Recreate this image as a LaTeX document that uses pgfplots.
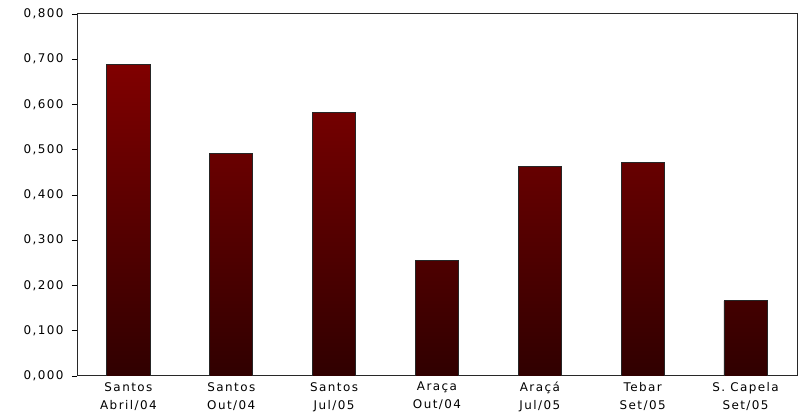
\documentclass[border=0pt]{standalone}
\usepackage{pgfplots}
\pgfplotsset{compat=1.18}
\usepackage{fontspec}
\setmainfont{DejaVu Sans}[LetterSpace=12]
\definecolor{bartop}{RGB}{128,0,0}
\definecolor{barmid}{RGB}{100,0,0}
\definecolor{barbottom}{RGB}{48,0,0}
\definecolor{framegray}{RGB}{40,40,40}
\begin{document}
\begin{tikzpicture}
\begin{axis}[
  scale only axis,
  width=720bp, height=362bp,
  xmin=-0.5, xmax=6.5,
  ymin=0, ymax=0.8,
  axis line style={framegray, line width=1bp},
  ytick={0,0.1,0.2,0.3,0.4,0.5,0.6,0.7,0.8},
  ytick pos=left,
  tick align=outside,
  major tick length=5bp,
  major tick style={black, line width=0.8bp},
  yticklabel style={
    font=\fontsize{12}{14}\selectfont, xshift=-5bp,
    /pgf/number format/fixed,
    /pgf/number format/fixed zerofill,
    /pgf/number format/precision=3,
    /pgf/number format/use comma,
    /pgf/number format/assume math mode=true},
  xtick=data,
  xtick style={draw=none},
  xticklabels={{Santos\\Abril/04},{Santos\\Out/04},{Santos\\Jul/05},
               {Araça\\Out/04},{Araçá\\Jul/05},{Tebar\\Set/05},
               {S. Capela\\Set/05}},
  xticklabel style={align=center, inner sep=0pt, yshift=-1bp,
    font=\fontsize{12}{18}\selectfont},
  ybar,
  bar width=0.42,
]
\addplot[draw=black!85, line width=0.8bp,
         top color=bartop, middle color=barmid, bottom color=barbottom]
  coordinates {
    (0,0.689) (1,0.492) (2,0.582) (3,0.256)
    (4,0.463) (5,0.471) (6,0.166)
  };
\end{axis}
\pgfresetboundingbox
\path (current axis.south west) ++(-77bp,-43bp) rectangle ++(801bp,419bp);
\end{tikzpicture}
\end{document}
